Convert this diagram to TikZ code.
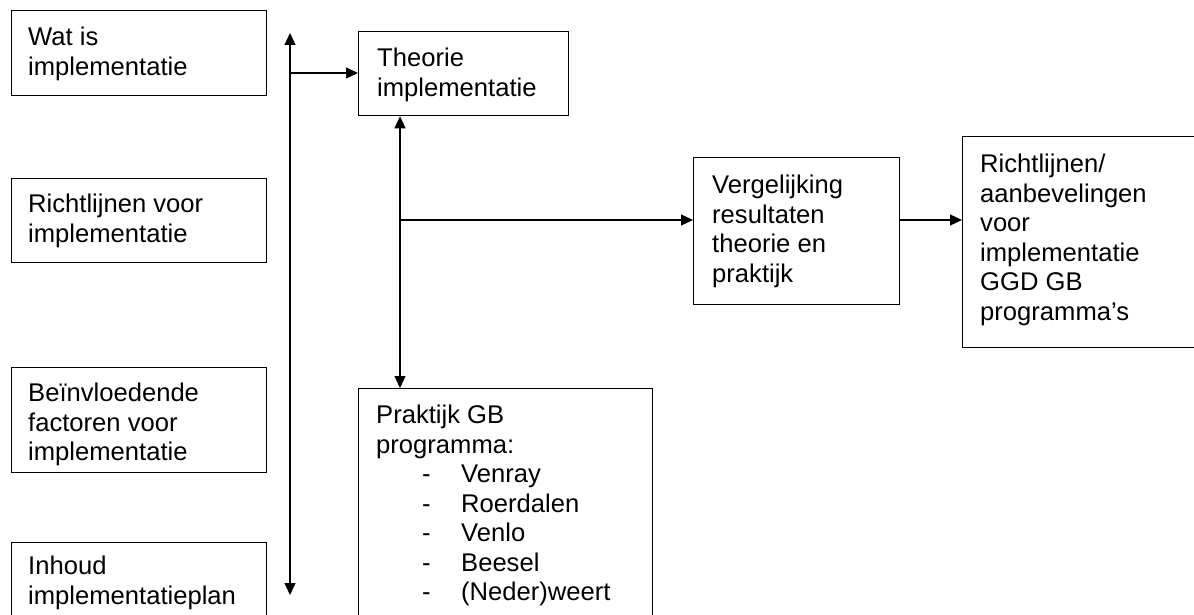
\documentclass[tikz,border=0pt]{standalone}
\usepackage{fontspec}
\setmainfont{Liberation Sans}
\usetikzlibrary{arrows.meta,calc}
\begin{document}
\begin{tikzpicture}[x=1pt,y=-1pt,
  box/.style={draw, line width=1.3pt, inner sep=0pt, anchor=north west},
  txt/.style={anchor=north west, inner sep=0pt, align=left, font=\fontsize{25.6}{29.5}\selectfont},
  arr/.style={line width=1.3pt, -{Triangle[length=12pt,width=11pt]}},
  darr/.style={line width=1.3pt, {Triangle[length=12pt,width=11pt]}-{Triangle[length=12pt,width=11pt]}}]
\useasboundingbox (0,0) rectangle (1194,615);
% boxes
\node[box, minimum width=255pt, minimum height=85pt] (b1) at (11,10) {};
\node[box, minimum width=255pt, minimum height=84pt] (b2) at (11,178) {};
\node[box, minimum width=255pt, minimum height=105pt] (b3) at (11,367) {};
\node[box, minimum width=255pt, minimum height=100pt] (b4) at (11,542) {};
\node[box, minimum width=210pt, minimum height=84pt] (th) at (358,31) {};
\node[box, minimum width=206pt, minimum height=147pt] (ve) at (693,157) {};
\node[box, minimum width=245pt, minimum height=211pt] (ri) at (962,136) {};
\node[box, minimum width=294pt, minimum height=250pt] (pr) at (358,388) {};
% texts
\node[txt] (t1) at (28,27) {Wat is\\implementatie};
\node[txt] (t2) at (28,194) {Richtlijnen voor\\implementatie};
\node[txt] (t3) at (28,383) {Beïnvloedende\\factoren voor\\implementatie};
\node[txt] (t4) at (28,556) {Inhoud\\implementatieplan};
\node[txt] (tth) at (377,48) {Theorie\\implementatie};
\node[txt] (tve) at (712,175) {Vergelijking\\resultaten\\theorie en\\praktijk};
\node[txt] (tri) at (980,154) {Richtlijnen/\\aanbevelingen\\voor\\implementatie\\GGD GB\\programma’s};
\node[txt] (tpr) at (376,405) {Praktijk GB\\programma:\\
\hspace*{46pt}\makebox[39pt][l]{-}Venray\\
\hspace*{46pt}\makebox[39pt][l]{-}Roerdalen\\
\hspace*{46pt}\makebox[39pt][l]{-}Venlo\\
\hspace*{46pt}\makebox[39pt][l]{-}Beesel\\
\hspace*{46pt}\makebox[39pt][l]{-}(Neder)weert};
% connectors
\coordinate (vt) at (290,33);
\coordinate (vb) at (290,595);
\coordinate (j1) at (290,73);
\coordinate (j2) at (400,220);
\draw[darr] (vt) -- (vb);
\draw[arr] (j1) -- (j1 -| th.west);
\draw[darr] ($(th.south west)+(42,0)$) -- ($(pr.north west)+(42,0)$);
\draw[arr] (j2) -- (j2 -| ve.west);
\draw[arr] (j2 -| ve.east) -- (j2 -| ri.west);
\end{tikzpicture}
\end{document}
